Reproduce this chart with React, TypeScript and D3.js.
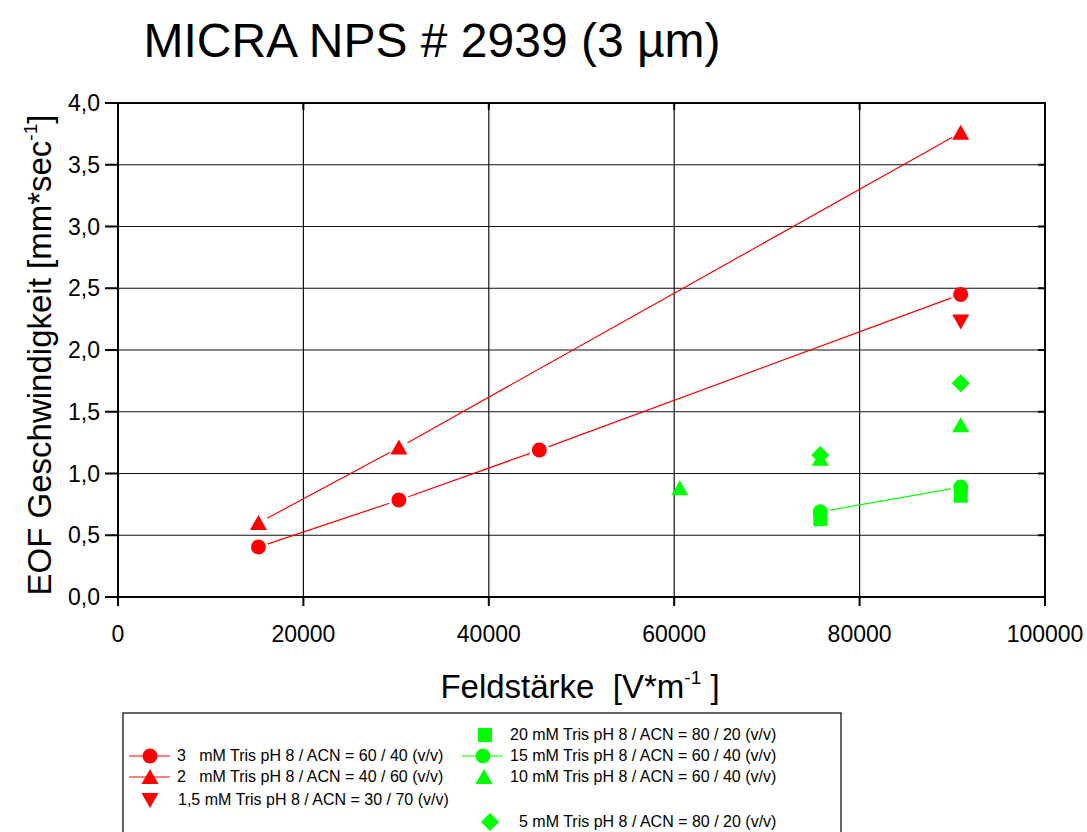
import React from "react";
import * as d3 from "d3";

// Feldstärke values (V/m) and EOF speeds (mm/s)
const red3mmX = [15152, 30303, 45455, 90909];
const red3mmY = [0.405, 0.785, 1.19, 2.45];
const red2mmX = [15152, 30303, 90909];
const red2mmY = [0.6, 1.21, 3.76];
const red15mmX = [90909];
const red15mmY = [2.23];
const green20X = [75758, 90909];
const green20Y = [0.63, 0.82];
const green15X = [75758, 90909];
const green15Y = [0.69, 0.89];
const green10X = [60606, 75758, 90909];
const green10Y = [0.88, 1.12, 1.39];
const green5X = [75758, 90909];
const green5Y = [1.15, 1.73];

const xTicks = [0, 20000, 40000, 60000, 80000, 100000];
const yTicks = [0, 0.5, 1, 1.5, 2, 2.5, 3, 3.5, 4];

const RED = "#ff0000";
const GREEN = "#00ff00";
const FONT = "Liberation Sans, Arial, sans-serif";

type Shape = "circle" | "up" | "down" | "square" | "diamond";

const series = [
  { name: "3   mM Tris pH 8 / ACN = 60 / 40 (v/v)", xs: red3mmX, ys: red3mmY, color: RED, shape: "circle" as Shape, line: true },
  { name: "2   mM Tris pH 8 / ACN = 40 / 60 (v/v)", xs: red2mmX, ys: red2mmY, color: RED, shape: "up" as Shape, line: true },
  { name: "1,5 mM Tris pH 8 / ACN = 30 / 70 (v/v)", xs: red15mmX, ys: red15mmY, color: RED, shape: "down" as Shape, line: false },
  { name: "20 mM Tris pH 8 / ACN = 80 / 20 (v/v)", xs: green20X, ys: green20Y, color: GREEN, shape: "square" as Shape, line: false },
  { name: "15 mM Tris pH 8 / ACN = 60 / 40 (v/v)", xs: green15X, ys: green15Y, color: GREEN, shape: "circle" as Shape, line: true },
  { name: "10 mM Tris pH 8 / ACN = 60 / 40 (v/v)", xs: green10X, ys: green10Y, color: GREEN, shape: "up" as Shape, line: false },
  { name: "5 mM Tris pH 8 / ACN = 80 / 20 (v/v)", xs: green5X, ys: green5Y, color: GREEN, shape: "diamond" as Shape, line: false },
];

// legend placement: [seriesIndex, x of marker, y of row, x of text]
const legendLayout = [
  [0, 150, 756, 177],
  [1, 150, 777, 177],
  [2, 150, 800, 178],
  [3, 485, 735, 510],
  [4, 483, 756, 510],
  [5, 484, 777, 510],
  [6, 490, 822, 519],
];

const margin = { left: 118, right: 1045, top: 103, bottom: 597 };

function marker(shape: Shape, cx: number, cy: number, color: string, key?: string) {
  if (shape === "circle") return <circle key={key} cx={cx} cy={cy} r={7.5} fill={color} />;
  let d = "";
  if (shape === "up") d = `M${cx},${cy - 8}L${cx + 8.5},${cy + 7}L${cx - 8.5},${cy + 7}Z`;
  if (shape === "down") d = `M${cx},${cy + 8}L${cx + 8.5},${cy - 7}L${cx - 8.5},${cy - 7}Z`;
  if (shape === "square") d = `M${cx - 7},${cy - 7}h14v14h-14Z`;
  if (shape === "diamond") d = `M${cx},${cy - 9}L${cx + 9},${cy}L${cx},${cy + 9}L${cx - 9},${cy}Z`;
  return <path key={key} d={d} fill={color} />;
}

export default function App() {
  const x = d3.scaleLinear().domain([0, 100000]).range([margin.left, margin.right]);
  const y = d3.scaleLinear().domain([0, 4]).range([margin.bottom, margin.top]);
  const fmt = (v: number) => d3.format(".1f")(v).replace(".", ",");

  const gap = 10;
  const segments: React.ReactNode[] = [];
  series.forEach((s, si) => {
    if (!s.line) return;
    for (let i = 0; i < s.xs.length - 1; i++) {
      const x1 = x(s.xs[i]), y1 = y(s.ys[i]);
      const x2 = x(s.xs[i + 1]), y2 = y(s.ys[i + 1]);
      const len = Math.hypot(x2 - x1, y2 - y1);
      const ux = (x2 - x1) / len, uy = (y2 - y1) / len;
      segments.push(
        <line key={`l${si}-${i}`} x1={x1 + ux * gap} y1={y1 + uy * gap} x2={x2 - ux * gap} y2={y2 - uy * gap}
          stroke={s.color} strokeWidth={1.2} />
      );
    }
  });

  // draw order: greens behind, 15mM circle over 20mM square
  const drawOrder = [3, 4, 5, 6, 2, 1, 0];

  return (
    <svg width={1087} height={832} style={{ position: "absolute", left: 0, top: 0, background: "#fff" }} fontFamily={FONT}>
      <text x={432} y={57} fontSize={48} textAnchor="middle">MICRA NPS # 2939 (3 µm)</text>

      {/* grid */}
      {xTicks.slice(1, -1).map(t => (
        <line key={`gx${t}`} x1={x(t)} x2={x(t)} y1={margin.top} y2={margin.bottom} stroke="#111" strokeWidth={1.2} />
      ))}
      {yTicks.slice(1, -1).map(t => (
        <line key={`gy${t}`} x1={margin.left} x2={margin.right} y1={y(t)} y2={y(t)} stroke="#111" strokeWidth={1.2} />
      ))}

      {/* frame */}
      <rect x={margin.left} y={margin.top} width={margin.right - margin.left} height={margin.bottom - margin.top}
        fill="none" stroke="#000" strokeWidth={2} />

      {/* ticks */}
      {yTicks.map(t => (
        <g key={`ty${t}`}>
          <line x1={margin.left - 13} x2={margin.left} y1={y(t)} y2={y(t)} stroke="#000" strokeWidth={2} />
          <line x1={margin.right - 7} x2={margin.right} y1={y(t)} y2={y(t)} stroke="#000" strokeWidth={2} />
          <text x={100} y={y(t) + 8} fontSize={23} textAnchor="end">{fmt(t)}</text>
        </g>
      ))}
      {xTicks.map(t => (
        <g key={`tx${t}`}>
          <line x1={x(t)} x2={x(t)} y1={margin.bottom} y2={margin.bottom + 9} stroke="#000" strokeWidth={2} />
          <line x1={x(t)} x2={x(t)} y1={margin.top} y2={margin.top + 7} stroke="#000" strokeWidth={2} />
          <text x={x(t)} y={642} fontSize={23} textAnchor="middle">{t}</text>
        </g>
      ))}

      {/* axis titles */}
      <text x={580} y={698} fontSize={33} textAnchor="middle" style={{ whiteSpace: "pre" }}>
        {"Feldstärke  [V*m"}
        <tspan dy={-14} fontSize={19}>-1</tspan>
        <tspan dy={14}>{" ]"}</tspan>
      </text>
      <text transform={`translate(51,${355}) rotate(-90)`} fontSize={33} textAnchor="middle">
        {"EOF Geschwindigkeit [mm*sec"}
        <tspan dy={-14} fontSize={19}>-1</tspan>
        <tspan dy={14}>]</tspan>
      </text>

      {/* data */}
      {segments}
      {drawOrder.map(si => {
        const s = series[si];
        return <g key={`s${si}`}>{s.xs.map((v, i) => marker(s.shape, x(v), y(s.ys[i]), s.color, `m${si}-${i}`))}</g>;
      })}

      {/* legend */}
      <rect x={123} y={713} width={718} height={130} fill="none" stroke="#000" strokeWidth={1.2} />
      {legendLayout.map(([si, mx, my, tx]) => {
        const s = series[si];
        return (
          <g key={`lg${si}`}>
            {s.line && <line x1={mx - 21} x2={mx + 20} y1={my} y2={my} stroke={s.color} strokeWidth={1.2} />}
            {marker(s.shape, mx, my, s.color)}
            <text x={tx} y={my + 5} fontSize={16} style={{ whiteSpace: "pre" }}>{s.name}</text>
          </g>
        );
      })}
    </svg>
  );
}
